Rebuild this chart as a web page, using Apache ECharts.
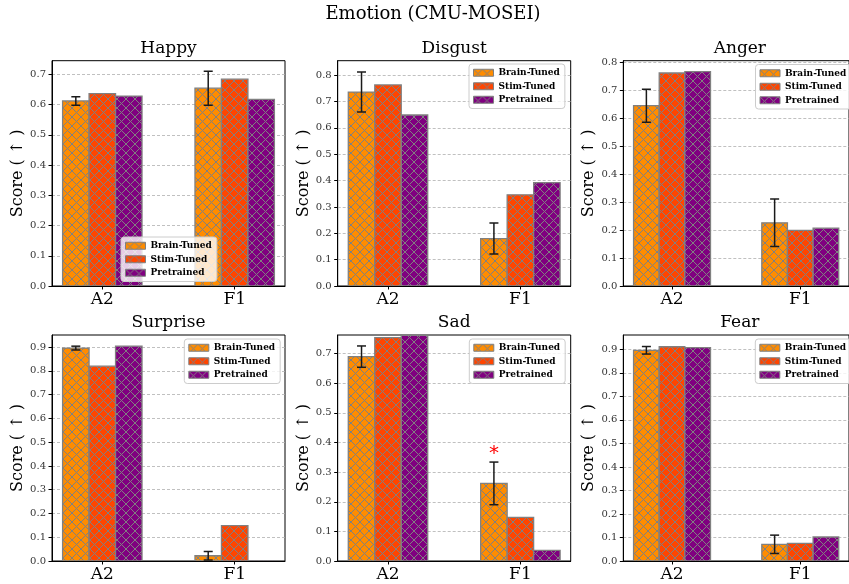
<!DOCTYPE html>
<html><head><meta charset="utf-8">
<script src="https://cdn.jsdelivr.net/npm/echarts@6/dist/echarts.min.js"></script>
<style>html,body{margin:0;padding:0;background:#fff}#c{width:849px;height:584px}</style>
</head><body><div id="c"></div>
<script>
// ---------- data ----------
const categories = ['A2', 'F1'];
const seriesNames = ['Brain-Tuned', 'Stim-Tuned', 'Pretrained'];
const panelTitles = ['Happy', 'Disgust', 'Anger', 'Surprise', 'Sad', 'Fear'];
const mainTitle = 'Emotion (CMU-MOSEI)';
const yLabel = 'Score ( \u2191 )';

const happyBrain = [0.612, 0.654], happyStim = [0.636, 0.684], happyPre = [0.628, 0.617], happyErr = [0.014, 0.056];
const disgustBrain = [0.736, 0.180], disgustStim = [0.763, 0.346], disgustPre = [0.649, 0.392], disgustErr = [0.076, 0.059];
const angerBrain = [0.645, 0.226], angerStim = [0.762, 0.199], angerPre = [0.767, 0.207], angerErr = [0.059, 0.085];
const surpriseBrain = [0.896, 0.022], surpriseStim = [0.820, 0.149], surprisePre = [0.904, 0.001], surpriseErr = [0.008, 0.018];
const sadBrain = [0.690, 0.262], sadStim = [0.754, 0.147], sadPre = [0.762, 0.036], sadErr = [0.036, 0.072];
const fearBrain = [0.896, 0.071], fearStim = [0.911, 0.075], fearPre = [0.907, 0.102], fearErr = [0.016, 0.039];
// significance markers (Brain-Tuned), per category
const sadSignificant = [false, true];

const yTickMax = [0.7, 0.8, 0.8, 0.9, 0.7, 0.9];
const yLimit = [0.745, 0.855, 0.806, 0.951, 0.763, 0.961];

const panels = [
  [happyBrain, happyStim, happyPre, happyErr, [false, false]],
  [disgustBrain, disgustStim, disgustPre, disgustErr, [false, false]],
  [angerBrain, angerStim, angerPre, angerErr, [false, false]],
  [surpriseBrain, surpriseStim, surprisePre, surpriseErr, [false, false]],
  [sadBrain, sadStim, sadPre, sadErr, sadSignificant],
  [fearBrain, fearStim, fearPre, fearErr, [false, false]]
];

// ---------- styling ----------
const colors = ['#FF8C00', '#FF4500', '#800080'];
const HATCH = '#808080';
const SERIF = '"DejaVu Serif", serif';
function makePattern(color) {
  const s = 9;
  const c = document.createElement('canvas');
  c.width = s; c.height = s;
  const g = c.getContext('2d');
  g.fillStyle = color; g.fillRect(0, 0, s, s);
  g.strokeStyle = HATCH; g.lineWidth = 1;
  g.beginPath();
  g.moveTo(-1, -1); g.lineTo(s + 1, s + 1);
  g.moveTo(-1, s + 1); g.lineTo(s + 1, -1);
  g.stroke();
  return { image: c, repeat: 'repeat' };
}
const patterns = colors.map(makePattern);

const BW = 0.2;
const colLeft = [52, 337.7, 623.3];
const rowTop = [60.7, 335];
const gW = 233, gH = [225.3, 226];
const legendPos = [[121, 237], [469, 64], [755.5, 64.5], [184.3, 339], [469.3, 339], [755.3, 339]];

const grids = [], xAxes = [], yAxes = [], series = [], legends = [], graphics = [];

graphics.push({ type: 'text', x: 433, y: 14, style: { text: mainTitle, font: '18px ' + SERIF, fill: '#000', align: 'center', verticalAlign: 'middle' } });

panels.forEach((p, i) => {
  const col = i % 3, row = Math.floor(i / 3);
  const left = colLeft[col], top = rowTop[row], h = gH[row];
  grids.push({ left: left, top: top, width: gW, height: h, show: true, borderColor: '#000', borderWidth: 1, backgroundColor: 'transparent' });
  graphics.push({ type: 'text', x: left + gW / 2, y: top - 12, style: { text: panelTitles[i], font: '17px ' + SERIF, fill: '#000', align: 'center', verticalAlign: 'middle' } });
  xAxes.push({
    type: 'value', gridIndex: i, min: -0.38, max: 1.38,
    axisLine: { show: true, onZero: false, lineStyle: { color: '#000', width: 1 } },
    axisTick: { show: true, length: 3.5, lineStyle: { color: '#000' }, customValues: categories.map((c, j) => j) },
    axisLabel: { customValues: categories.map((c, j) => j), formatter: v => categories[Math.round(v)], fontFamily: SERIF, fontSize: 17, color: '#000', margin: 5 },
    splitLine: { show: false }
  });
  const yt = [];
  for (let t = 0; t <= Math.round(yTickMax[i] * 10); t++) yt.push(t / 10);
  yAxes.push({
    type: 'value', gridIndex: i, min: 0, max: yLimit[i],
    name: yLabel, nameLocation: 'middle', nameGap: 26, nameRotate: 90,
    nameTextStyle: { fontFamily: SERIF, fontSize: 16, color: '#000' },
    axisLine: { show: true, onZero: false, lineStyle: { color: '#000', width: 1 } },
    axisTick: { show: true, length: 3.5, lineStyle: { color: '#000' }, customValues: yt },
    axisLabel: { customValues: yt, formatter: v => v.toFixed(1), fontFamily: SERIF, fontSize: 10, color: '#333', margin: 6 },
    splitLine: { show: true, lineStyle: { color: '#b0b0b0', width: 0.8, type: [3, 2] } }
  });
  // bars
  for (let k = 0; k < 3; k++) {
    const vals = p[k];
    series.push({
      type: 'custom', name: seriesNames[k], xAxisIndex: i, yAxisIndex: i, clip: true,
      itemStyle: { color: patterns[k], borderColor: HATCH, borderWidth: 1 },
      encode: { x: 0, y: 1 },
      data: categories.map((c, j) => [j + (k - 1) * BW, vals[j]]),
      renderItem: (params, api) => {
        const x = api.value(0), y = api.value(1);
        const a = api.coord([x - BW / 2, 0]);
        const b = api.coord([x + BW / 2, y]);
        return {
          type: 'rect',
          shape: { x: a[0], y: b[1], width: b[0] - a[0], height: a[1] - b[1] },
          style: { fill: patterns[k], stroke: HATCH, lineWidth: 1.3 }
        };
      },
      z: 3
    });
  }
  // error bars on Brain-Tuned
  const brain = p[0], err = p[3];
  series.push({
    type: 'custom', name: 'err' + i, xAxisIndex: i, yAxisIndex: i, clip: true,
    encode: { x: 0, y: 1 }, silent: true,
    data: categories.map((c, j) => [j - BW, brain[j], err[j]]),
    renderItem: (params, api) => {
      const x = api.value(0), y = api.value(1), e = api.value(2);
      const lo = api.coord([x, y - e]), hi = api.coord([x, y + e]);
      const st = { stroke: '#1a1a1a', lineWidth: 1.5 };
      const cw = 4.5;
      return { type: 'group', children: [
        { type: 'line', shape: { x1: lo[0], y1: lo[1], x2: hi[0], y2: hi[1] }, style: st },
        { type: 'line', shape: { x1: lo[0] - cw, y1: lo[1], x2: lo[0] + cw, y2: lo[1] }, style: st },
        { type: 'line', shape: { x1: hi[0] - cw, y1: hi[1], x2: hi[0] + cw, y2: hi[1] }, style: st }
      ] };
    },
    z: 5
  });
  // significance stars
  const sig = p[4];
  const starData = [];
  categories.forEach((c, j) => { if (sig[j]) starData.push([j - BW, brain[j] + err[j]]); });
  if (starData.length) {
    series.push({
      type: 'custom', name: 'sig' + i, xAxisIndex: i, yAxisIndex: i, silent: true,
      encode: { x: 0, y: 1 }, data: starData,
      renderItem: (params, api) => {
        const pt = api.coord([api.value(0), api.value(1)]);
        return { type: 'text', x: pt[0], y: pt[1] + 2, style: { text: '*', font: '20px "DejaVu Sans"', fill: '#ff0000', align: 'center', verticalAlign: 'bottom' } };
      },
      z: 6
    });
  }
  legends.push({
    left: legendPos[i][0], top: legendPos[i][1], orient: 'vertical',
    icon: 'rect', itemWidth: 20, itemHeight: 7, itemGap: 0,
    padding: [2, 5, 2, 4],
    backgroundColor: 'rgba(255,255,255,0.8)', borderColor: '#cccccc', borderWidth: 1, borderRadius: 3,
    selectedMode: false,
    textStyle: { fontFamily: SERIF, fontWeight: 'bold', fontSize: 9, color: '#000', lineHeight: 13.5 },
    data: seriesNames.map((n, k) => ({ name: n, itemStyle: { color: patterns[k], borderColor: HATCH, borderWidth: 1 } }))
  });
});

const chart = echarts.init(document.getElementById('c'), null, { renderer: 'canvas' });
chart.setOption({
  animation: false,
  backgroundColor: '#fff',
  grid: grids, xAxis: xAxes, yAxis: yAxes, series: series, legend: legends,
  graphic: graphics
});
</script>
</body></html>
